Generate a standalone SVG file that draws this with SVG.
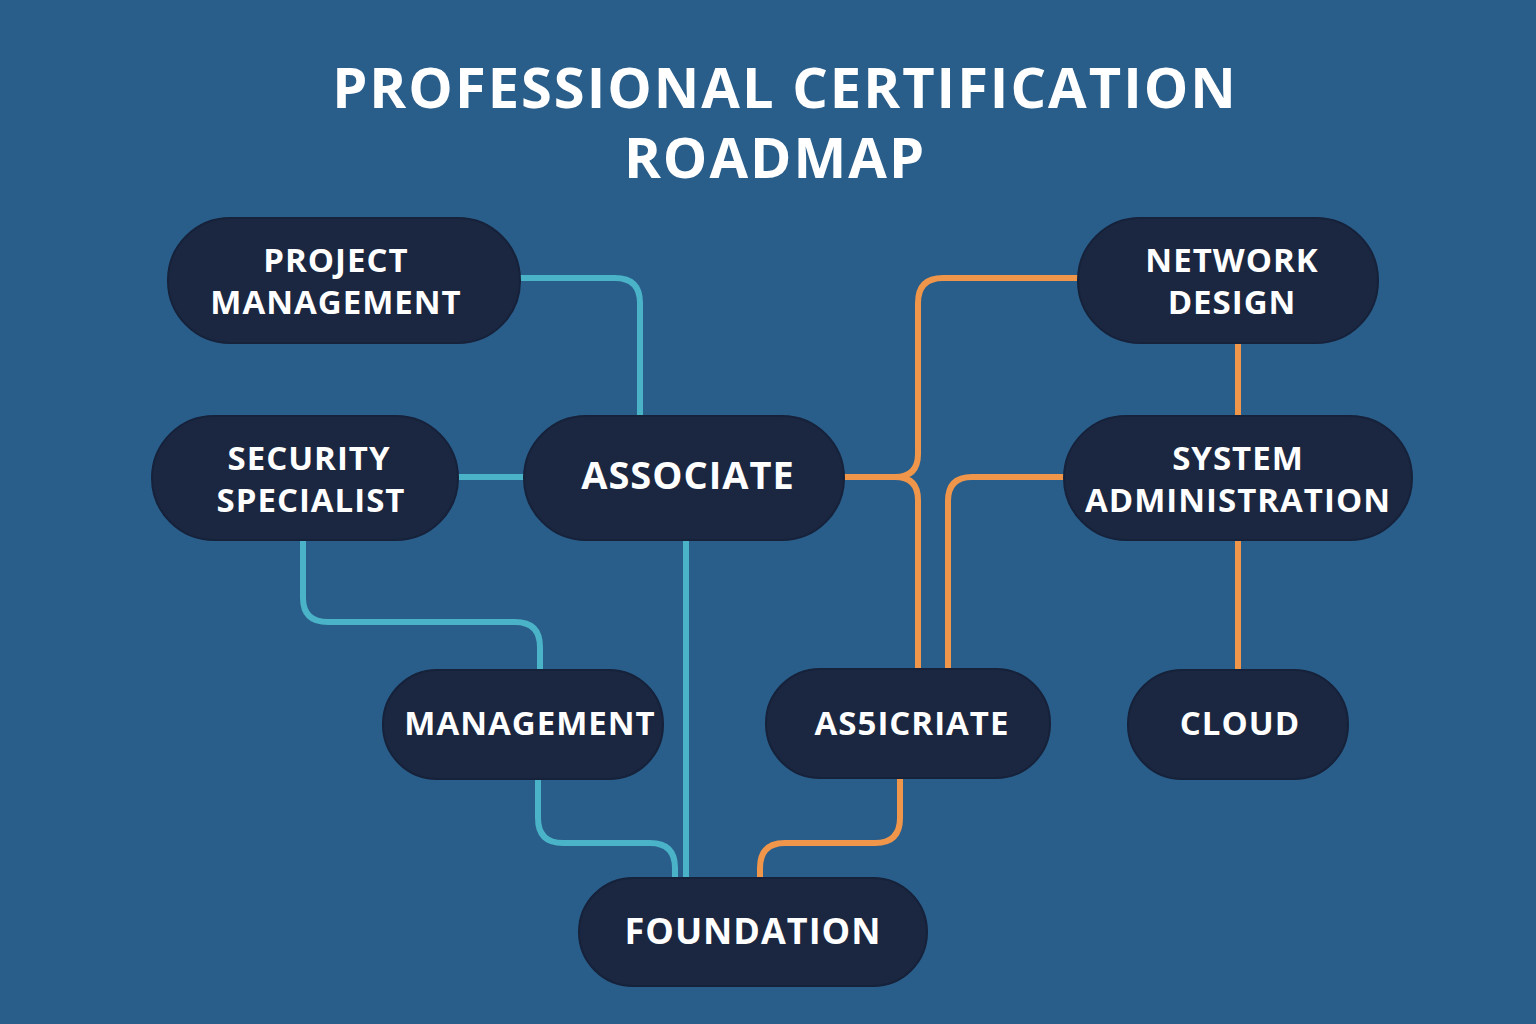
<svg xmlns="http://www.w3.org/2000/svg" width="1536" height="1024" viewBox="0 0 1536 1024">
<style>
.n{fill:#1b2740;stroke:#16213a;stroke-width:2}
.t{fill:#fff;font-family:"Open Sans","DejaVu Sans",sans-serif;font-weight:700;font-size:33px;text-anchor:middle;letter-spacing:1px}
.h{fill:#fff;font-family:"Open Sans","DejaVu Sans",sans-serif;font-weight:700;font-size:56px;text-anchor:middle;letter-spacing:2px}
.c{fill:none;stroke-width:6}
.b{stroke:#4ab3c8}.o{stroke:#f0964a}
</style>
<rect width="1536" height="1024" fill="#2a5e8a"/>
<text class="h" x="785" y="108">PROFESSIONAL CERTIFICATION</text>
<text class="h" x="775" y="178">ROADMAP</text>
<g id="connectors">
<path class="c b" d="M520,278 H615 Q640,278 640,303 V416"/>
<path class="c b" d="M458,477 H524"/>
<path class="c b" d="M303,540 V598 Q303,622 328,622 H515 Q540,622 540,647 V670"/>
<path class="c b" d="M686,540 V878"/>
<path class="c b" d="M538,779 V818 Q538,843 563,843 H650 Q675,843 675,868 V878"/>
<path class="c o" d="M844,477 H895 Q918,477 918,454 V303 Q918,278 943,278 H1078"/>
<path class="c o" d="M895,477 Q918,477 918,500 V669"/>
<path class="c o" d="M1064,477 H972 Q948,477 948,501 V669"/>
<path class="c o" d="M1238,343 V416 M1238,540 V670"/>
<path class="c o" d="M900,778 V818 Q900,843 875,843 H785 Q760,843 760,868 V878"/>
</g>
<g id="pm"><rect class="n" x="168" y="218" width="352" height="125" rx="62"/><text class="t" x="336" y="272">PROJECT</text><text class="t" x="336" y="314">MANAGEMENT</text></g>
<g id="sec"><rect class="n" x="152" y="416" width="306" height="124" rx="62"/><text class="t" x="309" y="470">SECURITY</text><text class="t" x="311" y="512">SPECIALIST</text></g>
<g id="assoc"><rect class="n" x="524" y="416" width="320" height="124" rx="62"/><text class="t" x="688" y="489" style="font-size:38px">ASSOCIATE</text></g>
<g id="nd"><rect class="n" x="1078" y="218" width="300" height="125" rx="62"/><text class="t" x="1232" y="272">NETWORK</text><text class="t" x="1232" y="314">DESIGN</text></g>
<g id="sa"><rect class="n" x="1064" y="416" width="348" height="124" rx="62"/><text class="t" x="1238" y="470">SYSTEM</text><text class="t" x="1238" y="512">ADMINISTRATION</text></g>
<g id="mgmt"><rect class="n" x="383" y="670" width="280" height="109" rx="54"/><text class="t" x="530" y="735">MANAGEMENT</text></g>
<g id="as5"><rect class="n" x="766" y="669" width="284" height="109" rx="54"/><text class="t" x="912" y="735">AS5ICRIATE</text></g>
<g id="cloud"><rect class="n" x="1128" y="670" width="220" height="109" rx="54"/><text class="t" x="1240" y="735">CLOUD</text></g>
<g id="found"><rect class="n" x="579" y="878" width="348" height="108" rx="54"/><text class="t" x="753" y="944" style="font-size:36px">FOUNDATION</text></g>
</svg>
